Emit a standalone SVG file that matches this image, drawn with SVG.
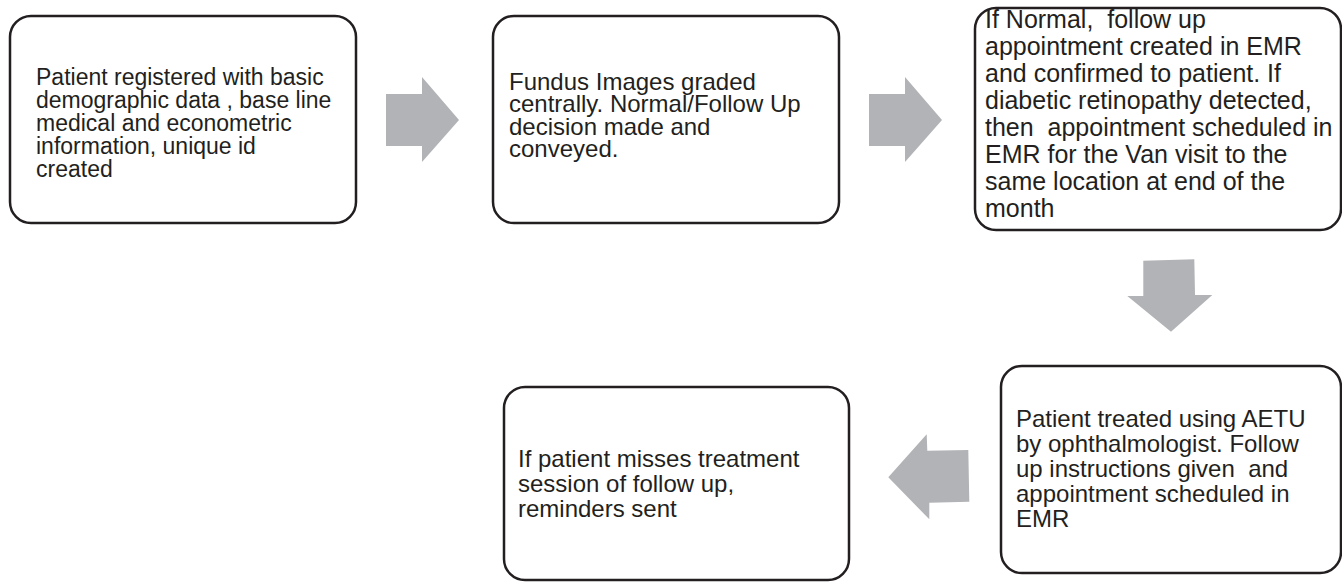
<svg xmlns="http://www.w3.org/2000/svg" width="1342" height="582" viewBox="0 0 1342 582">
<style>
.box{fill:#ffffff;stroke:#231f20;stroke-width:2.5}
.arrow{fill:#b2b3b6;stroke:none}
text{font-family:"Liberation Sans",Arial,sans-serif;font-size:24px;fill:#231f20;white-space:pre}
.f23{font-size:23px}
.f25{font-size:25px}
</style>
<rect width="1342" height="582" fill="#ffffff"/>
<g id="connectors">
<polygon class="arrow" points="386,94 422,94 422,77 459,120 422,162 422,146 386,146"/>
<polygon class="arrow" points="869,94 905,94 905,77 942,120 905,162 905,146 869,146"/>
<polygon class="arrow" points="1143.3,260.7 1194.3,259.3 1195,295 1212.3,295 1171,331.7 1127.3,296 1143.3,296"/>
<polygon class="arrow" points="968.3,450 969.3,501.7 929.3,502.7 929.3,519.3 888.3,477.3 926.7,434.3 927.3,450.7"/>
</g>
<g id="node1">
<rect class="box" x="10" y="16" width="346" height="207" rx="21"/>
<text class="f23" x="36" y="85">Patient registered with basic</text>
<text class="f23" x="36" y="108">demographic data , base line</text>
<text class="f23" x="36" y="131">medical and econometric</text>
<text class="f23" x="36" y="154">information, unique id</text>
<text class="f23" x="36" y="177">created</text>
</g>
<g id="node2">
<rect class="box" x="493" y="16" width="346" height="207" rx="21"/>
<text x="509" y="90">Fundus Images graded</text>
<text x="509" y="112">centrally. Normal/Follow Up</text>
<text x="509" y="135">decision made and</text>
<text x="509" y="157">conveyed.</text>
</g>
<g id="node3">
<rect class="box" x="975" y="8" width="366" height="222" rx="21"/>
<text class="f25" x="985" y="28" xml:space="preserve">If Normal,  follow up</text>
<text class="f25" x="985" y="55">appointment created in EMR</text>
<text class="f25" x="985" y="82">and confirmed to patient. If</text>
<text class="f25" x="985" y="109">diabetic retinopathy detected,</text>
<text class="f25" x="985" y="136" xml:space="preserve">then  appointment scheduled in</text>
<text class="f25" x="985" y="163">EMR for the Van visit to the</text>
<text class="f25" x="985" y="190">same location at end of the</text>
<text class="f25" x="985" y="217">month</text>
</g>
<g id="node4">
<rect class="box" x="1001" y="366" width="340" height="207" rx="21"/>
<text x="1016" y="427">Patient treated using AETU</text>
<text x="1016" y="452">by ophthalmologist. Follow</text>
<text x="1016" y="477" xml:space="preserve">up instructions given  and</text>
<text x="1016" y="502">appointment scheduled in</text>
<text x="1016" y="527">EMR</text>
</g>
<g id="node5">
<rect class="box" x="504" y="387" width="345" height="193" rx="21"/>
<text x="518" y="467">If patient misses treatment</text>
<text x="518" y="492">session of follow up,</text>
<text x="518" y="517">reminders sent</text>
</g>
</svg>
